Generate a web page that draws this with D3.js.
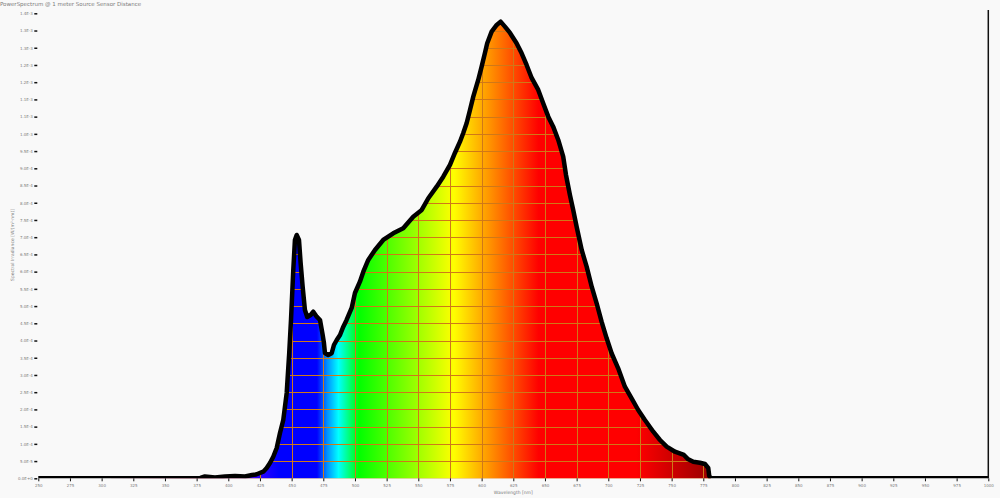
<!DOCTYPE html>
<meta charset="utf-8" />
<html lang="en">
  <head>
    <script src="https://d3js.org/d3.v7.min.js"></script>
    <style>
      body {
        margin: 0;
        background: #f9f9f9;
      }
      svg text {
        font-family: "DejaVu Sans", sans-serif;
        fill: #7c7c7c;
      }
      .grid line {
        stroke: #d07818;
        stroke-width: 1px;
        shape-rendering: crispEdges;
      }
    </style>
  </head>
  <body>
    <svg width="1000" height="498"></svg>
    <script>
      // spectrum, irradiance in units of 1e-5 W/(m²·nm)
      var wavelength = [250, 299, 378, 381.5, 389.5, 397.4, 405.3, 413.2, 418.7, 421.9,
        427.6, 430.3, 432.9, 435.5, 438.2, 440.8, 443.4, 446.1, 448.1, 449.5,
        451.3, 452.6, 454.0, 455.8, 457.1, 458.7, 460.5, 462.3, 465.0, 467.1,
        469.8, 472.4, 474.5, 475.5, 476.3, 478.9, 481.6, 483.4, 485.6, 488.2,
        490.8, 493.4, 497.4, 500.0, 503.9, 506.6, 510.5, 515.8, 522.3, 530.2,
        538.1, 546.0, 552.7, 557.9, 564.5, 569.7, 575.0, 578.9, 582.9, 585.5,
        588.2, 590.8, 593.4, 597.3, 600.0, 602.6, 604.4, 607.9, 611.9, 615.0,
        618.4, 622.4, 627.6, 631.6, 635.5, 639.5, 644.7, 648.6, 652.6, 656.5,
        660.5, 664.4, 666.6, 669.7, 672.3, 675.0, 679.0, 682.9, 686.9, 690.8,
        694.7, 698.7, 702.6, 707.8, 713.1, 718.4, 723.6, 728.9, 735.5, 740.8,
        746.1, 752.6, 759.7, 763.1, 767.1, 772.3, 776.3, 778.9, 779.7, 781, 1000];
      var irradiance = [0, 0.05, 0.1, 0.52, 0.23, 0.52, 0.67, 0.52, 0.96, 1.10,
        1.92, 2.99, 4.44, 6.27, 8.80, 13.15, 16.93, 24.77, 36.38, 45.96,
        60.48, 69.19, 70.64, 69.19, 62.51, 55.63, 48.87, 46.83, 47.42, 48.37,
        46.92, 45.96, 41.61, 39.29, 36.38, 35.80, 36.30, 38.70, 40.16, 41.61,
        44.02, 45.96, 49.45, 53.80, 57.08, 59.99, 63.39, 66.29, 69.19, 71.14,
        72.59, 75.96, 77.90, 81.30, 84.67, 87.57, 90.97, 94.45, 97.73, 100.26,
        103.16, 106.94, 110.80, 115.65, 119.51, 123.49, 126.31, 129.67, 131.62, 132.58,
        131.13, 129.30, 126.31, 123.40, 120.00, 116.23, 112.75, 108.89, 104.99, 102.09,
        98.23, 93.38, 88.07, 82.26, 77.90, 73.05, 66.29, 61.44, 55.63, 50.81,
        45.47, 40.65, 36.30, 31.94, 26.60, 23.23, 19.83, 16.93, 13.53, 11.12,
        9.18, 7.72, 6.77, 5.52, 4.82, 4.53, 4.15, 2.99, 0.67, 0, 0];

      var xTicks = d3.range(250, 1001, 25);
      var yTicks = d3.range(0, 136, 5);

      // colour of the fill at each wavelength
      var colorNm = [380, 420, 440, 470, 478, 487, 503, 578, 645, 722, 780];
      var colorHex = ["#7a00c8", "#3a00ff", "#0000ff", "#0000ff", "#0090ff", "#00ffff",
        "#00ff00", "#ffff00", "#ff0000", "#ff0000", "#9a0000"];

      var title = "PowerSpectrum @ 1 meter Source Sensor Distance";
      var xTitle = "Wavelength [nm]";
      var yTitle = "Spectral Irradiance [W/(m²·nm)]";

      var svg = d3.select("svg");
      var mLeft = 38.3, mRight = 988.3, mTop = 13.3, mBottom = 478.3;

      var x = d3.scaleLinear().domain([250, 1000]).range([mLeft, mRight]);
      var y = d3.scaleLinear().domain([0, 135]).range([mBottom, mTop]);

      var data = wavelength.map(function(w, i) {
        return { w: w, v: irradiance[i] };
      });

      var defs = svg.append("defs");
      var grad = defs
        .append("linearGradient")
        .attr("id", "spectrum")
        .attr("gradientUnits", "userSpaceOnUse")
        .attr("x1", x(colorNm[0]))
        .attr("x2", x(colorNm[colorNm.length - 1]))
        .attr("y1", 0)
        .attr("y2", 0);
      var span = colorNm[colorNm.length - 1] - colorNm[0];
      grad
        .selectAll("stop")
        .data(colorNm)
        .enter()
        .append("stop")
        .attr("offset", function(d) {
          return (d - colorNm[0]) / span;
        })
        .attr("stop-color", function(d, i) {
          return colorHex[i];
        });

      var area = d3
        .area()
        .x(function(d) { return x(d.w); })
        .y0(mBottom)
        .y1(function(d) { return y(d.v); });

      var line = d3
        .line()
        .x(function(d) { return x(d.w); })
        .y(function(d) { return y(d.v); });

      defs.append("clipPath").attr("id", "under").append("path").attr("d", area(data));
      defs
        .append("clipPath")
        .attr("id", "plot")
        .append("rect")
        .attr("x", mLeft - 3)
        .attr("y", 0)
        .attr("width", mRight - mLeft + 3)
        .attr("height", mBottom);

      svg.append("path").attr("d", area(data)).attr("fill", "url(#spectrum)");

      // grid only shows under the curve
      var grid = svg.append("g").attr("class", "grid").attr("clip-path", "url(#under)");
      grid
        .selectAll("line.h")
        .data(yTicks)
        .enter()
        .append("line")
        .attr("x1", mLeft)
        .attr("x2", mRight)
        .attr("y1", function(d) { return Math.round(y(d)) + 0.5; })
        .attr("y2", function(d) { return Math.round(y(d)) + 0.5; });
      grid
        .selectAll("line.v")
        .data(xTicks)
        .enter()
        .append("line")
        .attr("y1", mTop)
        .attr("y2", mBottom)
        .attr("x1", function(d) { return Math.round(x(d)) + 0.5; })
        .attr("x2", function(d) { return Math.round(x(d)) + 0.5; });

      svg
        .append("path")
        .attr("d", line(data))
        .attr("clip-path", "url(#plot)")
        .attr("fill", "none")
        .attr("stroke", "#000")
        .attr("stroke-width", 4.5)
        .attr("stroke-linejoin", "round");

      // right border
      svg
        .append("line")
        .attr("x1", mRight)
        .attr("x2", mRight)
        .attr("y1", 10)
        .attr("y2", mBottom)
        .attr("stroke", "#111")
        .attr("stroke-width", 1.5);

      var yAxis = d3
        .axisLeft(y)
        .tickValues(yTicks)
        .tickSize(3)
        .tickPadding(1.5)
        .tickFormat(function(d) {
          return d3.format(".1e")(d * 1e-5).toUpperCase();
        });
      var gy = svg
        .append("g")
        .attr("transform", "translate(" + (mLeft - 1) + ",0)")
        .call(yAxis);
      gy.select(".domain").remove();
      gy.selectAll(".tick line").attr("stroke", "#111").attr("stroke-width", 1.5);
      gy.selectAll("text").style("font-size", "4px").attr("fill", "#7c7c7c");

      var xAxis = d3
        .axisBottom(x)
        .tickValues(xTicks)
        .tickSize(3)
        .tickPadding(2.5)
        .tickFormat(d3.format("d"));
      var gx = svg
        .append("g")
        .attr("transform", "translate(0," + mBottom + ")")
        .call(xAxis);
      gx.select(".domain").remove();
      gx.selectAll(".tick line").attr("stroke", "#111");
      gx.selectAll("text").style("font-size", "4px").attr("fill", "#7c7c7c");

      svg
        .append("text")
        .attr("x", (mLeft + mRight) / 2)
        .attr("y", 494)
        .attr("text-anchor", "middle")
        .style("font-size", "4.5px")
        .text(xTitle);

      svg
        .append("text")
        .attr("transform", "translate(14,245) rotate(-90)")
        .attr("text-anchor", "middle")
        .style("font-size", "4.5px")
        .text(yTitle);

      svg
        .append("text")
        .attr("x", 0)
        .attr("y", 6)
        .style("font-size", "5.5px")
        .text(title);
    </script>
  </body>
</html>
